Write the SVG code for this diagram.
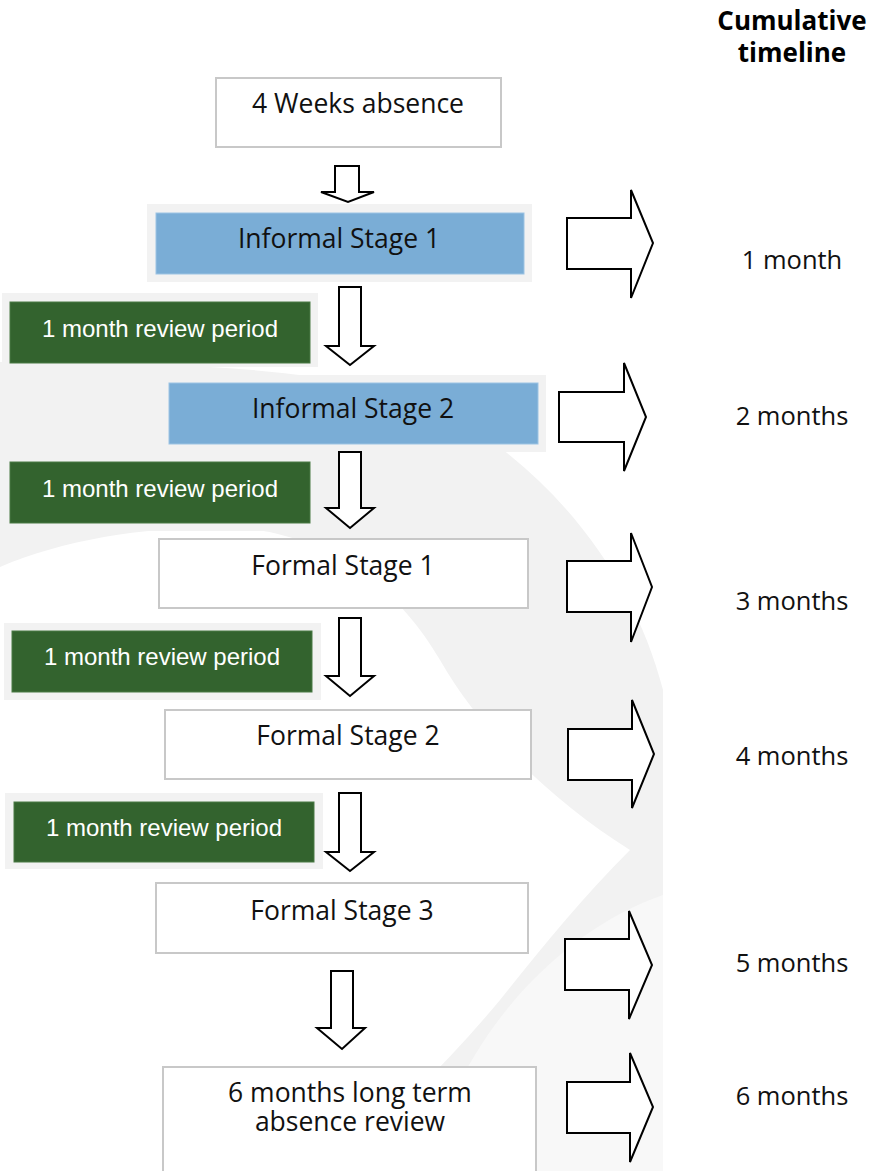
<svg xmlns="http://www.w3.org/2000/svg" width="869" height="1171" viewBox="0 0 869 1171">
<style>
.t{font-family:"Open Sans","Liberation Sans",sans-serif;font-size:26.5px;fill:#111;text-anchor:middle}
.r{font-family:"Open Sans","Liberation Sans",sans-serif;font-size:25.5px;fill:#111;text-anchor:middle}
.g{font-family:"Liberation Sans",Arial,sans-serif;font-size:24px;fill:#fff;text-anchor:middle}
.h{font-family:"Open Sans","Liberation Sans",sans-serif;font-size:26px;font-weight:bold;fill:#000;text-anchor:middle}
.box{fill:#fff;stroke:#c8c8c8;stroke-width:2}
.halo{fill:#f2f2f2}
.blue{fill:#7aadd6;stroke:#9cc3e3;stroke-width:1}
.green{fill:#33632e;stroke:#4a7a45;stroke-width:1}
.arr{fill:#fff;stroke:#000;stroke-width:2;stroke-linejoin:miter}
</style>
<rect width="869" height="1171" fill="#fff"/>
<g id="background">
<path d="M0,362 C120,360 300,366 400,393 C450,408 480,430 507,453 C585,515 640,600 663,690 L663,1171 L0,1171 Z" fill="#f2f2f2"/>
<path d="M0,567 C70,537 160,525 240,528 C330,535 400,590 440,660 C480,730 550,800 630,850 C580,900 540,950 500,1000 C450,1060 390,1120 327,1171 L0,1171 Z" fill="#fff"/>
<path d="M663,895 C590,920 520,980 475,1055 C450,1095 432,1135 420,1171 L663,1171 Z" fill="#f8f8f8"/>
</g>
<g id="title">
<text class="h"><tspan x="792" y="30">Cumulative</tspan><tspan x="792" y="62">timeline</tspan></text>
</g>
<g id="n-weeks">
<rect class="box" x="216" y="78" width="285" height="69"/>
<text class="t" x="358" y="113">4 Weeks absence</text>
</g>
<g id="n-informal1">
<rect class="halo" x="147" y="204" width="385" height="78"/>
<rect class="blue" x="156" y="213" width="368" height="61"/>
<text class="t" x="339" y="248">Informal Stage 1</text>
</g>
<g id="n-review1">
<rect class="halo" x="2" y="293" width="316" height="74"/>
<rect class="green" x="10" y="302" width="300" height="61"/>
<text class="g" x="160" y="337">1 month review period</text>
</g>
<g id="n-informal2">
<rect class="halo" x="160" y="375" width="386" height="77"/>
<rect class="blue" x="169" y="383" width="369" height="61"/>
<text class="t" x="353" y="418">Informal Stage 2</text>
</g>
<g id="n-review2">
<rect class="halo" x="2" y="455" width="316" height="76"/>
<rect class="green" x="10" y="462" width="300" height="61"/>
<text class="g" x="160" y="497">1 month review period</text>
</g>
<g id="n-formal1">
<rect class="box" x="159" y="539" width="369" height="69"/>
<text class="t" x="343" y="575">Formal Stage 1</text>
</g>
<g id="n-review3">
<rect class="halo" x="4" y="623" width="317" height="77"/>
<rect class="green" x="12" y="631" width="300" height="61"/>
<text class="g" x="162" y="665">1 month review period</text>
</g>
<g id="n-formal2">
<rect class="box" x="165" y="710" width="366" height="69"/>
<text class="t" x="348" y="745">Formal Stage 2</text>
</g>
<g id="n-review4">
<rect class="halo" x="5" y="793" width="318" height="76"/>
<rect class="green" x="14" y="802" width="300" height="60"/>
<text class="g" x="164" y="836">1 month review period</text>
</g>
<g id="n-formal3">
<rect class="box" x="156" y="883" width="372" height="70"/>
<text class="t" x="342" y="920">Formal Stage 3</text>
</g>
<g id="n-longterm">
<rect class="box" x="163" y="1067" width="373" height="110"/>
<text class="t"><tspan x="350" y="1102">6 months long term</tspan><tspan x="350" y="1131">absence review</tspan></text>
</g>
<g id="timeline">
<text class="r" x="792" y="269">1 month</text>
<text class="r" x="792" y="425">2 months</text>
<text class="r" x="792" y="610">3 months</text>
<text class="r" x="792" y="765">4 months</text>
<text class="r" x="792" y="972">5 months</text>
<text class="r" x="792" y="1105">6 months</text>
</g>
<g id="connectors">
<polygon class="arr" points="335,166 359,166 359,192 374,192 348,202 321,192 335,192"/>
<polygon class="arr" points="339,287 361,287 361,346 374,346 350,365 326,346 339,346"/>
<polygon class="arr" points="339,452 361,452 361,508 374,508 350,528 326,508 339,508"/>
<polygon class="arr" points="339,618 361,618 361,676 374,676 350,696 326,676 339,676"/>
<polygon class="arr" points="339,793 361,793 361,852 374,852 350,871 326,852 339,852"/>
<polygon class="arr" points="331,971 353,971 353,1028 365,1028 342,1049 317,1028 331,1028"/>
<polygon class="arr" points="567,218 631,218 631,190 653,243 631,298 631,269 567,269"/>
<polygon class="arr" points="559,392 624,392 624,363 646,417 624,471 624,442 559,442"/>
<polygon class="arr" points="567,561 631,561 631,533 652,587 631,642 631,612 567,612"/>
<polygon class="arr" points="568,729 632,729 632,700 654,754 632,808 632,780 568,780"/>
<polygon class="arr" points="565,939 629,939 629,911 652,965 629,1019 629,990 565,990"/>
<polygon class="arr" points="567,1082 630,1082 630,1053 653,1107 630,1162 630,1133 567,1133"/>
</g>
</svg>
